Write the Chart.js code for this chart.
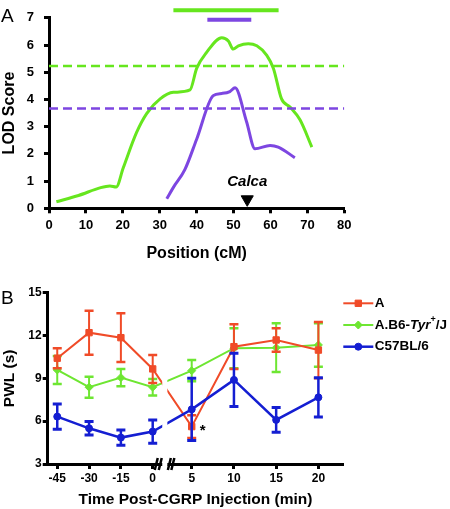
<!DOCTYPE html>
<html>
<head>
<meta charset="utf-8">
<script src="https://cdn.jsdelivr.net/npm/chart.js@4.4.1/dist/chart.umd.min.js"></script>
<style>
  body { margin: 0; background: #fff; }
  canvas { display: block; }
</style>
</head>
<body>
<canvas id="lodChart" width="450" height="263"></canvas>
<canvas id="pwlChart" width="450" height="246"></canvas>
<script>
// ---- panel A: LOD scores along the chromosome ----
const greenPos = [2, 8, 14, 16.5, 18.2, 20.1, 23.7, 26.5, 30.1, 33.7, 38.2, 40, 42.7, 46.8, 48.6, 49.9, 51.3, 54, 56.3, 59, 60.8, 63, 65.3, 68, 71.2];
const greenLod = [0.24, 0.47, 0.76, 0.82, 0.78, 1.48, 2.78, 3.49, 4.02, 4.26, 4.35, 5.14, 5.73, 6.27, 6.15, 5.85, 5.97, 6.05, 5.97, 5.62, 5.14, 4.02, 3.72, 3.25, 2.25];
const purplePos = [31.9, 33.7, 36.8, 40, 44.5, 46.8, 49, 50.4, 53.5, 55.8, 59.9, 62.1, 66.6];
const purpleLod = [0.35, 0.77, 1.42, 2.54, 4.14, 4.22, 4.29, 4.43, 3.19, 2.19, 2.31, 2.25, 1.86];
const thresholds = [5.23, 3.67];
const greenInterval = [33.7, 62.2];
const purpleInterval = [42.9, 54.8];
const intervalLevels = [7.28, 6.93];
const calcaPos = 53.7;

// ---- panel B: paw withdrawal latency ----
const times = [-45, -30, -15, 0, 5, 10, 15, 20];
const aMean = [10.41, 12.20, 11.85, 9.66, 5.62, 11.22, 11.69, 10.98];
const aErr = [0.70, 1.54, 1.71, 0.98, 0.80, 1.57, 0.82, 1.97];
const tyrMean = [9.59, 8.38, 9.05, 8.38, 9.54, 11.11, 11.15, 11.34];
const tyrErr = [0.98, 0.74, 0.60, 0.58, 0.75, 1.40, 1.71, 1.52];
const b6Mean = [6.32, 5.50, 4.85, 5.27, 6.83, 8.89, 6.09, 7.67];
const b6Err = [0.89, 0.47, 0.54, 0.82, 2.18, 1.87, 0.86, 1.38];

const FONT = "Arial, 'Liberation Sans', Helvetica, sans-serif";
Chart.defaults.font.family = FONT;
Chart.defaults.color = '#000';

const LIME = '#66e61e', VIOLET = '#7d46e1';
const RED = '#f04b28', GREEN = '#6ee632', BLUE = '#141ed2';

// broken time axis: 15 min per unit before injection, stretched after
function axisPos(t) {
  return t <= 0 ? t / 15 : 1.226 + (t - 5) * 0.2654;
}
const breakGap = [0.3, 0.46];

function xy(xs, ys) {
  return xs.map((x, i) => ({ x: x, y: ys[i] }));
}
function hline(x0, x1, y) {
  return [{ x: x0, y: y }, { x: x1, y: y }];
}

function axisStyle(size) {
  return {
    grid: { drawOnChartArea: false, tickLength: 5, tickWidth: 3, tickColor: '#000' },
    border: { color: '#000', width: 3 },
    ticks: { font: { size: size, weight: 'bold' }, color: '#000', maxRotation: 0 }
  };
}

const panelLabel = (letter, y) => ({
  id: 'panelLabel' + letter,
  afterDraw(chart) {
    const ctx = chart.ctx;
    ctx.save();
    ctx.font = '19px ' + FONT;
    ctx.fillStyle = '#000';
    ctx.textBaseline = 'middle';
    ctx.fillText(letter, 1, y);
    ctx.restore();
  }
});

const markerText = {
  id: 'markerText',
  afterDraw(chart) {
    const ctx = chart.ctx;
    chart.data.datasets.forEach((ds, i) => {
      if (!ds.markText) return;
      const pt = chart.getDatasetMeta(i).data[0];
      ctx.save();
      ctx.font = 'italic bold 15px ' + FONT;
      ctx.fillStyle = '#000';
      ctx.textAlign = 'center';
      ctx.textBaseline = 'middle';
      ctx.fillText(ds.markText, pt.x, pt.y - 17);
      ctx.restore();
    });
  }
};

const lodDs = (data, color, extra) => Object.assign({
  data: data, borderColor: color, backgroundColor: color,
  borderWidth: 3, pointRadius: 0, pointHoverRadius: 0
}, extra);

new Chart(document.getElementById('lodChart'), {
  type: 'line',
  data: {
    datasets: [
      lodDs(hline(0, 80, thresholds[0]), LIME, { borderWidth: 2.5, borderDash: [9, 5] }),
      lodDs(hline(0, 80, thresholds[1]), VIOLET, { borderWidth: 2.5, borderDash: [9, 5] }),
      lodDs(xy(greenPos, greenLod), LIME, { cubicInterpolationMode: 'monotone' }),
      lodDs(xy(purplePos, purpleLod), VIOLET, { cubicInterpolationMode: 'monotone' }),
      lodDs(hline(greenInterval[0], greenInterval[1], intervalLevels[0]), LIME, { borderWidth: 4, clip: false }),
      lodDs(hline(purpleInterval[0], purpleInterval[1], intervalLevels[1]), VIOLET, { borderWidth: 4, clip: false }),
      {
        label: 'Calca', markText: 'Calca', data: [{ x: calcaPos, y: 0.33 }], showLine: false,
        pointStyle: 'triangle', rotation: 180, pointRadius: 7, pointHoverRadius: 7,
        backgroundColor: '#000', borderColor: '#000', borderWidth: 1, clip: false
      }
    ]
  },
  options: {
    responsive: false,
    animation: false,
    layout: { padding: { left: 0, top: 11.3, right: 105.7, bottom: 0 } },
    plugins: { legend: { display: false }, tooltip: { enabled: false } },
    scales: {
      x: Object.assign(axisStyle(13), {
        type: 'linear', min: 0, max: 80,
        ticks: { stepSize: 10, font: { size: 13, weight: 'bold' }, color: '#000', padding: 4, maxRotation: 0 },
        title: { display: true, text: 'Position (cM)', font: { size: 16, weight: 'bold' }, color: '#000', padding: 0 },
        afterFit(s) { s.height = 54.7; }
      }),
      y: Object.assign(axisStyle(13), {
        min: 0, max: 7,
        ticks: { stepSize: 1, font: { size: 13, weight: 'bold' }, color: '#000', padding: 10 },
        title: { display: true, text: 'LOD Score', font: { size: 16, weight: 'bold' }, color: '#000', padding: 0 },
        afterFit(s) { s.width = 49; }
      })
    }
  },
  plugins: [markerText, panelLabel('A', 17)]
});

// ---- panel B ----
function series(label, mean, err, color, style, radius, width, order, parts) {
  return {
    label: label, legendParts: parts,
    data: times.map((t, i) => ({ x: axisPos(t), y: mean[i] })),
    errors: err, borderColor: color, backgroundColor: color, borderWidth: width,
    pointStyle: style, pointRadius: radius, pointHoverRadius: radius, pointBorderWidth: 1,
    order: order
  };
}

const errorBars = {
  id: 'errorBars',
  beforeDatasetDraw(chart, args) {
    const ds = chart.data.datasets[args.index];
    if (!ds.errors) return;
    const ctx = chart.ctx, y = chart.scales.y;
    ctx.save();
    ctx.strokeStyle = ds.borderColor;
    ctx.lineWidth = ds.borderWidth;
    args.meta.data.forEach((pt, i) => {
      const v = ds.data[i].y, e = ds.errors[i];
      const top = y.getPixelForValue(v + e), bot = y.getPixelForValue(v - e);
      ctx.beginPath();
      ctx.moveTo(pt.x, top); ctx.lineTo(pt.x, bot);
      ctx.stroke();
      ctx.lineWidth = ds.borderWidth + 0.5;
      ctx.beginPath();
      ctx.moveTo(pt.x - 4.5, top); ctx.lineTo(pt.x + 4.5, top);
      ctx.moveTo(pt.x - 4.5, bot); ctx.lineTo(pt.x + 4.5, bot);
      ctx.stroke();
      ctx.lineWidth = ds.borderWidth;
    });
    ctx.restore();
  }
};

const axisBreak = {
  id: 'axisBreak',
  afterDatasetsDraw(chart) {
    const { ctx, chartArea, scales: { x } } = chart;
    const a = x.getPixelForValue(breakGap[0]);
    const b = x.getPixelForValue(breakGap[1]);
    ctx.save();
    ctx.fillStyle = '#fff';
    ctx.fillRect(a, chartArea.top, b - a, chartArea.bottom - chartArea.top + 3);
    ctx.strokeStyle = '#000';
    ctx.lineWidth = 2.5;
    ctx.beginPath();
    [a - 6, a - 2, b + 2, b + 5.5].forEach(px => {
      ctx.moveTo(px - 1.5, chartArea.bottom + 6);
      ctx.lineTo(px + 1.5, chartArea.bottom - 6);
    });
    ctx.stroke();
    ctx.restore();
  }
};

const starNote = {
  id: 'starNote',
  afterDraw(chart) {
    const pt = chart.getDatasetMeta(0).data[times.indexOf(5)];
    const ctx = chart.ctx;
    ctx.save();
    ctx.font = 'bold 15px ' + FONT;
    ctx.fillStyle = '#000';
    ctx.textBaseline = 'middle';
    ctx.fillText('*', pt.x + 8, pt.y + 4);
    ctx.restore();
  }
};

const sideLegend = {
  id: 'sideLegend',
  afterDraw(chart) {
    const ctx = chart.ctx, area = chart.chartArea;
    chart.data.datasets.forEach((ds, i) => {
      const y = area.top + 10.6 + i * 21.7;
      const x0 = area.right, x1 = area.right + 30;
      ctx.save();
      ctx.strokeStyle = ds.borderColor;
      ctx.fillStyle = ds.backgroundColor;
      ctx.lineWidth = ds.borderWidth;
      ctx.beginPath();
      ctx.moveTo(x0, y); ctx.lineTo(x1, y);
      ctx.stroke();
      ctx.lineWidth = 1;
      Chart.helpers.drawPoint(ctx, { pointStyle: ds.pointStyle, radius: ds.pointRadius, borderWidth: 1, rotation: 0 }, (x0 + x1) / 2, y);
      ctx.fillStyle = '#000';
      ctx.textBaseline = 'middle';
      let x = x1 + 1.5;
      (ds.legendParts || [{ text: ds.label }]).forEach(p => {
        ctx.font = (p.italic ? 'italic ' : '') + 'bold ' + (p.sup ? '9px ' : '13.5px ') + FONT;
        ctx.fillText(p.text, x, p.sup ? y - 5 : y);
        x += ctx.measureText(p.text).width;
      });
      ctx.restore();
    });
  }
};

new Chart(document.getElementById('pwlChart'), {
  type: 'line',
  data: {
    datasets: [
      series('A', aMean, aErr, RED, 'rect', 4.5, 2, 1),
      series('A.B6-Tyr\u207a/J', tyrMean, tyrErr, GREEN, 'rectRot', 4, 2, 2,
        [{ text: 'A.B6-' }, { text: 'Tyr', italic: true }, { text: '+', sup: true }, { text: '/J' }]),
      series('C57BL/6', b6Mean, b6Err, BLUE, 'circle', 3.5, 2.5, 0)
    ]
  },
  options: {
    responsive: false,
    animation: false,
    layout: { padding: { left: 0, top: 29.7, right: 106.7, bottom: 0 } },
    plugins: { legend: { display: false }, tooltip: { enabled: false } },
    scales: {
      x: Object.assign(axisStyle(12), {
        type: 'linear', min: -3.3, max: 5.99,
        afterBuildTicks(s) { s.ticks = times.map(t => ({ value: axisPos(t) })); },
        ticks: { font: { size: 12, weight: 'bold' }, color: '#000', padding: 2, maxRotation: 0, autoSkip: false,
          callback: (v, i) => String(times[i]) },
        title: { display: true, text: 'Time Post-CGRP Injection (min)', font: { size: 15.5, weight: 'bold' }, color: '#000', padding: 0 },
        afterFit(s) { s.height = 45; }
      }),
      y: Object.assign(axisStyle(12), {
        min: 3, max: 15,
        ticks: { stepSize: 3, font: { size: 12, weight: 'bold' }, color: '#000', padding: 1 },
        title: { display: true, text: 'PWL (s)', font: { size: 15.5, weight: 'bold' }, color: '#000', padding: 0 },
        afterFit(s) { s.width = 47.7; }
      })
    }
  },
  plugins: [errorBars, axisBreak, starNote, sideLegend, panelLabel('B', 35.3)]
});
</script>
</body>
</html>
